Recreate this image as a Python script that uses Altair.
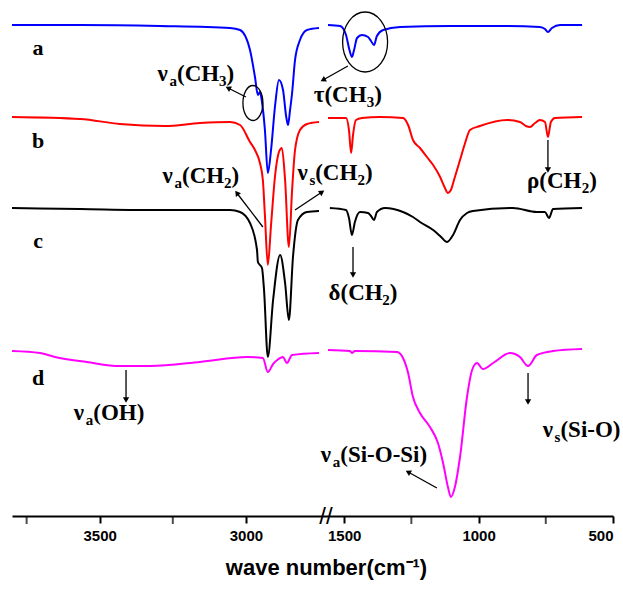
import altair as alt
import pandas as pd

# ---------------- spectra (wave number, offset transmittance a.u.) ----------------
a_left_wn = [3800, 3567, 3294, 3054, 3020, 2986, 2969, 2959, 2952, 2945, 2935, 2925, 2914, 2900, 2887, 2873, 2863, 2856, 2849, 2842, 2832, 2815, 2791, 2750]
a_left_t = [488, 488, 487, 485, 483, 463, 436, 418, 421, 411, 383, 340, 363, 408, 433, 423, 398, 388, 403, 420, 453, 473, 483, 485]
a_right_wn = [1560, 1515, 1493, 1482, 1471, 1463, 1452, 1434, 1411, 1400, 1389, 1378, 1355, 1292, 1106, 920, 772, 753, 742, 727, 697, 615]
a_right_t = [488, 487, 478, 465, 456, 463, 475, 478, 476, 472, 468, 477, 483, 486, 487, 487, 486, 484, 481, 485, 488, 488]

b_left_wn = [3800, 3567, 3431, 3277, 3157, 3054, 3020, 2986, 2969, 2952, 2942, 2935, 2925, 2914, 2900, 2887, 2877, 2866, 2853, 2842, 2832, 2815, 2791, 2750]
b_left_t = [396, 394, 389, 387, 390, 391, 388, 371, 363, 350, 333, 298, 248, 288, 338, 361, 365, 333, 266, 323, 363, 383, 389, 391]
b_right_wn = [1560, 1493, 1482, 1474, 1467, 1456, 1434, 1367, 1281, 1262, 1244, 1218, 1192, 1169, 1143, 1125, 1114, 1103, 1088, 1069, 1050, 1032, 995, 894, 846, 824, 809, 790, 772, 753, 742, 731, 716, 615]
b_right_t = [395, 395, 383, 360, 378, 393, 395, 396, 395, 388, 373, 365, 356, 348, 336, 325, 320, 323, 336, 353, 370, 383, 387, 393, 391, 387, 386, 390, 393, 391, 376, 391, 395, 396]

c_left_wn = [3800, 3567, 3294, 3054, 3020, 2986, 2962, 2959, 2945, 2938, 2925, 2907, 2883, 2866, 2853, 2839, 2822, 2791, 2750]
c_left_t = [305, 304, 303, 303, 301, 290, 263, 251, 245, 223, 156, 213, 258, 230, 193, 256, 293, 301, 302]
c_right_wn = [1553, 1493, 1482, 1471, 1460, 1441, 1411, 1400, 1389, 1378, 1348, 1281, 1244, 1218, 1169, 1143, 1117, 1095, 1069, 1043, 1021, 872, 783, 753, 738, 723, 615]
c_right_t = [305, 303, 295, 278, 291, 301, 300, 297, 293, 301, 305, 301, 296, 291, 283, 277, 271, 278, 293, 300, 302, 305, 301, 301, 295, 304, 305]

d_left_wn = [3800, 3704, 3653, 3544, 3431, 3328, 3157, 2996, 2942, 2925, 2907, 2893, 2873, 2860, 2842, 2750]
d_left_t = [162, 160, 156, 151, 147, 147, 151, 156, 155, 141, 149, 153, 156, 150, 158, 160]
d_right_wn = [1560, 1478, 1471, 1460, 1303, 1281, 1262, 1244, 1218, 1181, 1151, 1132, 1114, 1103, 1088, 1069, 1043, 1024, 1006, 984, 946, 883, 846, 816, 783, 723, 615]
d_right_t = [163, 162, 160, 162, 161, 155, 140, 116, 100, 86, 70, 50, 26, 16, 26, 56, 116, 143, 150, 144, 150, 160, 156, 147, 158, 162, 164]

series_names = ["a", "b", "c", "d"]
series_colors = ["#0000ff", "#ff0000", "#000000", "#ff00ff"]

# ---------------- annotations ----------------
label_text = ["a", "b", "c", "d"]
label_wn = [3711, 3711, 3711, 3711]
label_t = [458, 365, 265, 128]

# "_x" marks a subscript character
ann_text = ["ν_a(CH_3)", "τ(CH_3)", "ν_a(CH_2)", "ν_s(CH_2)", "δ(CH_2)", "ρ(CH_2)", "ν_a(OH)", "ν_a(Si-O-Si)", "ν_s(Si-O)"]
ann_wn = [3171, 1486, 3154, 1534, 1430, 690, 3468, 1389, 617]
ann_t = [432, 411, 330, 333, 213, 325, 93, 51, 76]

arrow_wn = [3000, 1486, 2942, 2832, 742, 1467, 3410, 1155, 816]
arrow_t = [416, 447, 286, 303, 373, 266, 143, 25, 140]
arrow_wn2 = [3061, 2221, 3031, 2353, 742, 1467, 3410, 1262, 816]
arrow_t2 = [425, 433, 320, 321, 343, 238, 113, 41, 111]
arrow_dir = [297, 241, 323, 56, 180, 180, 180, 299, 180]

ellipse_wn = [2976, 1422]
ellipse_t = [410, 471]

major_ticks = [3500, 3000, 1500, 1000, 500]
minor_ticks = [3750, 3250, 1250, 750]
break_wn = [1825]
break_t = [-3]

# ---------------- build tables ----------------
rows = []
for name, segs in [
    ("a", [(a_left_wn, a_left_t), (a_right_wn, a_right_t)]),
    ("b", [(b_left_wn, b_left_t), (b_right_wn, b_right_t)]),
    ("c", [(c_left_wn, c_left_t), (c_right_wn, c_right_t)]),
    ("d", [(d_left_wn, d_left_t), (d_right_wn, d_right_t)]),
]:
    for si, (wns, ts) in enumerate(segs):
        for w, t in zip(wns, ts):
            rows.append({"series": name, "key": f"{name}{si}", "wn": w, "t": t})
spec = pd.DataFrame(rows)

xscale = alt.Scale(domain=[3800, 2750, 1560, 500], range=[12, 319, 328, 613], nice=False, zero=False)
yscale = alt.Scale(domain=[-3, 513], nice=False, zero=False)
X = alt.X("wn:Q", scale=xscale)
Y = alt.Y("t:Q", scale=yscale)

x_axis = alt.Axis(
    values=major_ticks, orient="bottom", grid=False, format="d",
    domainColor="black", domainWidth=2, tickColor="black", tickWidth=2, tickSize=7,
    labelFont="Liberation Sans", labelFontWeight="bold", labelFontSize=15, labelColor="black",
    labelPadding=5, labelFlush=True, labelOverlap=False,
    title="wave number(cm⁻¹)", titleFont="Liberation Sans", titleFontWeight="bold",
    titleFontSize=22, titleColor="black", titlePadding=14, titleX=326,
)

lines = alt.Chart(spec).mark_line(strokeWidth=2, interpolate="monotone").encode(
    x=alt.X("wn:Q", scale=xscale, axis=x_axis),
    y=alt.Y("t:Q", scale=yscale, axis=None),
    color=alt.Color("series:N", scale=alt.Scale(domain=series_names, range=series_colors), legend=None),
    detail="key:N",
    order=alt.Order("wn:Q", sort="descending"),
)

minor_df = pd.DataFrame({"wn": minor_ticks, "t": [-3] * len(minor_ticks)})
minor = alt.Chart(minor_df).mark_tick(orient="vertical", size=8, thickness=2, color="black", yOffset=4).encode(x=X, y=Y)

brk = alt.Chart(pd.DataFrame({"wn": break_wn, "t": break_t, "s": ["//"]})).mark_text(
    font="Liberation Sans", fontSize=24, color="black", baseline="middle", align="center", dy=1
).encode(x=X, y=Y, text="s:N")

letters = alt.Chart(pd.DataFrame({"wn": label_wn, "t": label_t, "s": label_text})).mark_text(
    font="Liberation Serif", fontWeight="bold", fontSize=22, color="black", baseline="alphabetic", align="center"
).encode(x=X, y=Y, text="s:N")

# annotation labels: each piece (main text or subscript) is its own text mark, shifted by dx
MAIN_FS = 23
SUB_FS = 15
EM = {"ν": 0.52, "τ": 0.47, "δ": 0.5, "ρ": 0.55, "a": 0.5, "s": 0.389, "(": 0.333, ")": 0.333,
      "C": 0.722, "H": 0.778, "O": 0.778, "S": 0.556, "i": 0.278, "-": 0.333, "2": 0.5, "3": 0.5}

ann_layers = []
for txt, w0, t0 in zip(ann_text, ann_wn, ann_t):
    pieces = []
    i = 0
    buf = ""
    while i < len(txt):
        if txt[i] == "_":
            if buf:
                pieces.append((buf, False))
                buf = ""
            pieces.append((txt[i + 1], True))
            i += 2
        else:
            buf += txt[i]
            i += 1
    if buf:
        pieces.append((buf, False))
    widths = [sum(EM.get(ch, 0.5) for ch in p) * (SUB_FS if sub else MAIN_FS) for p, sub in pieces]
    off = -sum(widths) / 2
    for (p, sub), wd in zip(pieces, widths):
        df = pd.DataFrame({"wn": [w0], "t": [t0], "s": [p]})
        ann_layers.append(
            alt.Chart(df).mark_text(
                font="Liberation Serif", fontWeight="bold", fontSize=SUB_FS if sub else MAIN_FS,
                color="black", baseline="alphabetic", align="left", dx=round(off, 1), dy=5 if sub else 0,
            ).encode(x=X, y=Y, text="s:N")
        )
        off += wd

arr_df = pd.DataFrame({"wn": arrow_wn, "t": arrow_t, "wn2": arrow_wn2, "t2": arrow_t2, "ang": arrow_dir})
shafts = alt.Chart(arr_df).mark_rule(strokeWidth=1.3, color="black").encode(
    x=X, x2="wn2:Q", y=Y, y2="t2:Q",
)
heads = alt.Chart(arr_df).mark_point(shape="triangle-up", filled=True, size=40, color="black", opacity=1).encode(
    x=alt.X("wn2:Q", scale=xscale),
    y=alt.Y("t2:Q", scale=yscale),
    angle=alt.Angle("ang:Q", scale=None),
)

ell1 = alt.Chart(pd.DataFrame({"wn": ellipse_wn[:1], "t": ellipse_t[:1]})).mark_point(
    shape="M 0.571 0 A 0.571 1 0 1 1 -0.571 0 A 0.571 1 0 1 1 0.571 0 Z",
    filled=False, size=1225, color="black", strokeWidth=1.3, opacity=1,
).encode(x=X, y=Y)

ell2 = alt.Chart(pd.DataFrame({"wn": ellipse_wn[1:], "t": ellipse_t[1:]})).mark_point(
    shape="M 0.75 0 A 0.75 1 0 1 1 -0.75 0 A 0.75 1 0 1 1 0.75 0 Z",
    filled=False, size=3600, color="black", strokeWidth=1.3, opacity=1,
).encode(x=X, y=Y)

chart = alt.layer(lines, minor, brk, letters, *ann_layers, shafts, heads, ell1, ell2).properties(
    width=623, height=516,
    autosize=alt.AutoSizeParams(type="none"),
    padding={"left": 0, "top": 0, "right": 0, "bottom": 77},
    background="white",
).configure_view(stroke=None)

chart.save("out.html", embed_options={"renderer": "svg", "actions": False})
